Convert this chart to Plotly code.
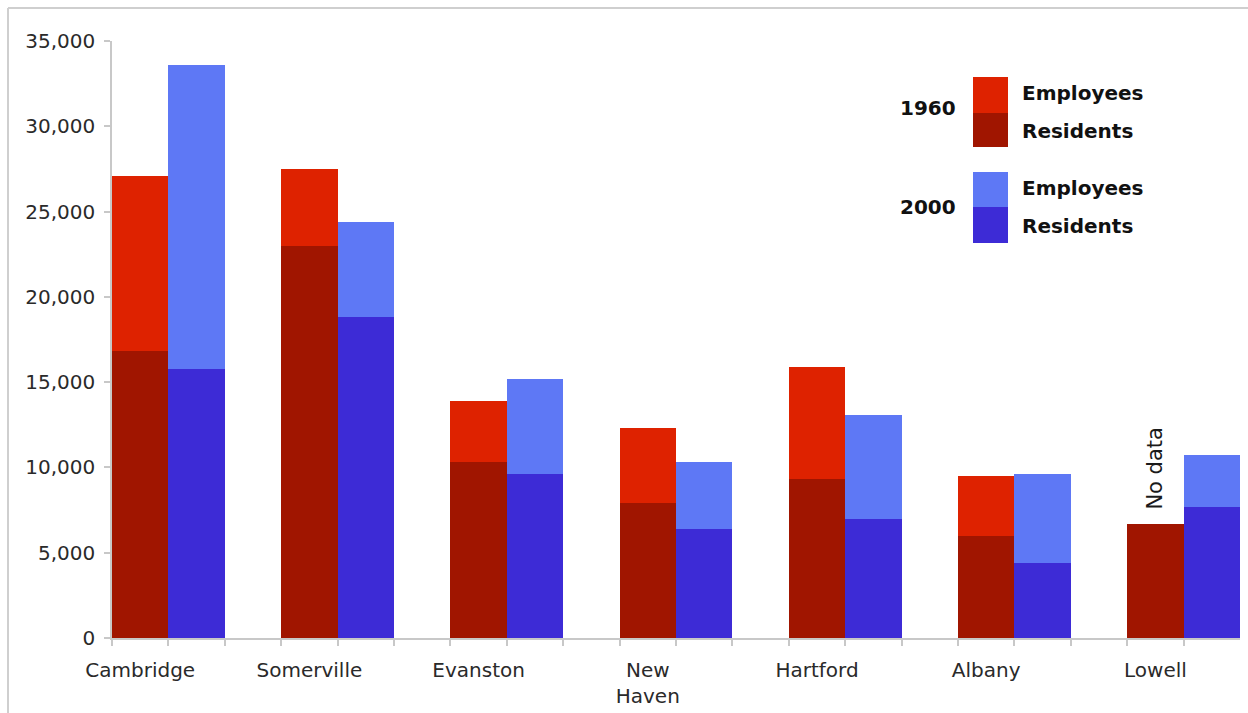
import plotly.graph_objects as go

# Cities and commuter counts (residents at the base, employees stacked on top)
cities = ["Cambridge", "Somerville", "Evanston", "New<br>Haven", "Hartford", "Albany", "Lowell"]
res_1960 = [16800, 23000, 10300, 7900, 9300, 6000, 6700]
emp_1960 = [10300, 4500, 3600, 4400, 6600, 3500, None]
res_2000 = [15800, 18800, 9600, 6400, 7000, 4400, 7700]
emp_2000 = [17800, 5600, 5600, 3900, 6100, 5200, 3000]
y_ticks = [0, 5000, 10000, 15000, 20000, 25000, 30000, 35000]

C_EMP_60 = "#DE2200"
C_RES_60 = "#A01500"
C_EMP_00 = "#5E78F5"
C_RES_00 = "#3D2BD6"

W, H = 1248, 713
ML, MR, MT, MB = 112, 8, 41, 75
PW, PH = W - ML - MR, H - MT - MB

def px(x):
    return (x - ML) / PW

def py(y):
    return (H - MB - y) / PH

bw = 1 / 3
x60 = list(range(len(cities)))
x00 = [i + bw for i in x60]

fig = go.Figure()
fig.add_bar(x=x60, y=res_1960, width=bw, marker=dict(color=C_RES_60, line_width=0), name="1960 Residents")
fig.add_bar(x=x60, y=emp_1960, width=bw, marker=dict(color=C_EMP_60, line_width=0), name="1960 Employees")
fig.add_bar(x=x00, y=res_2000, width=bw, marker=dict(color=C_RES_00, line_width=0), name="2000 Residents")
fig.add_bar(x=x00, y=emp_2000, width=bw, marker=dict(color=C_EMP_00, line_width=0), name="2000 Employees")

font_family = "DejaVu Sans, Verdana, sans-serif"
edges = [i * bw - bw / 2 for i in range(3 * len(cities) - 1)]
AX_TEXT = "#2a2a2a"

fig.update_layout(
    width=W, height=H,
    margin=dict(l=ML, r=MR, t=MT, b=MB, autoexpand=False),
    barmode="stack",
    bargap=0,
    showlegend=False,
    plot_bgcolor="white",
    paper_bgcolor="white",
    font=dict(family=font_family, color=AX_TEXT, size=20),
    xaxis=dict(
        range=[-bw / 2, len(cities) - 1 + bw * 1.5],
        tickmode="array", tickvals=x60, ticktext=cities,
        ticks="", showgrid=False, zeroline=False, automargin=False,
        showline=True, linecolor="#c8c8c8", linewidth=1.5,
        ticklabelstandoff=13,
        tickfont=dict(size=20, color=AX_TEXT),
        minor=dict(tickmode="array", tickvals=edges, ticks="outside",
                   ticklen=6, tickcolor="#c8c8c8", tickwidth=1.5, showgrid=False),
    ),
    yaxis=dict(
        range=[0, 35000],
        tickmode="array", tickvals=y_ticks,
        tickformat=",d",
        ticks="outside", ticklen=6, tickcolor="#c8c8c8", tickwidth=1.5,
        showgrid=False, zeroline=False, automargin=False,
        showline=True, linecolor="#c8c8c8", linewidth=1.5,
        ticklabelstandoff=5,
        tickfont=dict(size=20, color=AX_TEXT),
    ),
)

# "No data" note above the Lowell 1960 bar
fig.add_annotation(
    x=x60[-1], y=res_1960[-1], text="No data", textangle=-90,
    showarrow=False, yanchor="bottom", yshift=12,
    font=dict(size=21, color="#1a1a1a"),
)

# Frame lines along the top and left edges of the figure
fig.add_shape(type="line", xref="paper", yref="paper",
              x0=px(8), x1=px(W + 5), y0=py(8), y1=py(8),
              line=dict(color="#cfcfcf", width=2))
fig.add_shape(type="line", xref="paper", yref="paper",
              x0=px(8), x1=px(8), y0=py(8), y1=py(H + 5),
              line=dict(color="#cfcfcf", width=2))

# Custom legend: year label, two stacked swatches, series names
legend_groups = [
    ("1960", C_EMP_60, C_RES_60, 77, 113, 147, 108),
    ("2000", C_EMP_00, C_RES_00, 172, 207, 243, 207),
]
for year, c_top, c_bot, y_top, y_mid, y_bot, y_year in legend_groups:
    fig.add_shape(type="rect", xref="paper", yref="paper",
                  x0=px(973), x1=px(1008), y0=py(y_mid), y1=py(y_top),
                  fillcolor=c_top, line_width=0)
    fig.add_shape(type="rect", xref="paper", yref="paper",
                  x0=px(973), x1=px(1008), y0=py(y_bot), y1=py(y_mid),
                  fillcolor=c_bot, line_width=0)
    fig.add_annotation(xref="paper", yref="paper", x=px(958), y=py(y_year),
                       text="<b>%s</b>" % year, showarrow=False,
                       xanchor="right", yanchor="middle",
                       font=dict(size=20, color="#111111"))
    fig.add_annotation(xref="paper", yref="paper", x=px(1020), y=py((y_top + y_mid) / 2 - 2),
                       text="<b>Employees</b>", showarrow=False,
                       xanchor="left", yanchor="middle",
                       font=dict(size=20, color="#111111"))
    fig.add_annotation(xref="paper", yref="paper", x=px(1020), y=py((y_mid + y_bot) / 2 + 1),
                       text="<b>Residents</b>", showarrow=False,
                       xanchor="left", yanchor="middle",
                       font=dict(size=20, color="#111111"))

fig.write_html("out.html")
